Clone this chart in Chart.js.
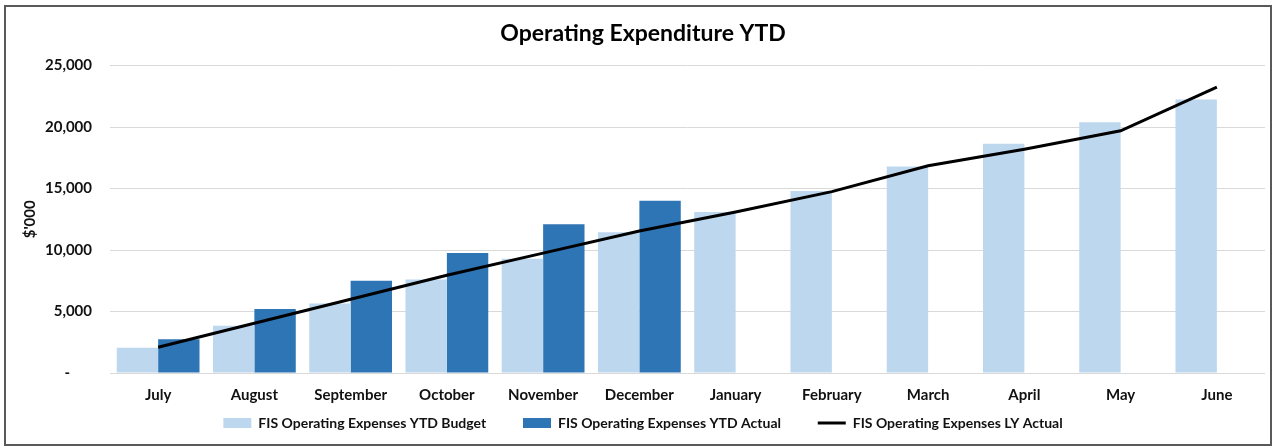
<!DOCTYPE html>
<html>
<head>
<meta charset="utf-8">
<script src="https://cdn.jsdelivr.net/npm/chart.js@4/dist/chart.umd.min.js"></script>
<style>
    html, body { margin: 0; padding: 0; background: #fff; }
    #frame {
        position: absolute; left: 4px; top: 5px;
        width: 1268px; height: 441px;
        border: 2px solid #595959; box-sizing: border-box;
    }
    #chart-wrap { position: absolute; left: 0; top: 0; right: 0; bottom: 0; }
</style>
</head>
<body>
<div id="frame"><div id="chart-wrap"><canvas id="chart-opex"></canvas></div></div>
<script>
const months = ['July', 'August', 'September', 'October', 'November', 'December',
    'January', 'February', 'March', 'April', 'May', 'June']
const ytdBudget = [2050, 3850, 5650, 7600, 9300, 11450, 13100, 14800, 16800, 18650, 20400, 22250]
const ytdActual = [2750, 5200, 7500, 9750, 12100, 14000, null, null, null, null, null, null]
const lyActual = [2100, 4050, 6000, 7950, 9750, 11550, 13100, 14750, 16850, 18200, 19700, 23250]

const FONT = "Lato, 'Open Sans', sans-serif"
const GAP = '       '

/* Excel accounting style: zero shows as a dash */
function fmtTick(v) {
    if (v === 0) return '-      '
    return v.toLocaleString('en-US')
}

var canva = document.getElementById('chart-opex')
var chart = new Chart(canva, {
    data: {
        labels: months,
        datasets: [{
            type: 'line',
            label: 'FIS Operating Expenses LY Actual',
            data: lyActual,
            borderColor: '#000000',
            backgroundColor: '#000000',
            borderWidth: 3,
            pointRadius: 0,
            pointStyle: 'line',
            tension: 0,
            order: 0
        }, {
            type: 'bar',
            label: 'FIS Operating Expenses YTD Budget',
            data: ytdBudget,
            backgroundColor: '#BDD7EE',
            borderWidth: 0,
            pointStyle: 'rect',
            order: 1
        }, {
            type: 'bar',
            label: 'FIS Operating Expenses YTD Actual',
            data: ytdActual,
            backgroundColor: '#2E75B6',
            borderWidth: 0,
            pointStyle: 'rect',
            order: 2
        }]
    },
    options: {
        responsive: true,
        maintainAspectRatio: false,
        animation: false,
        layout: { padding: { left: 15, right: 5, top: 4, bottom: 4 } },
        datasets: {
            bar: { categoryPercentage: 0.86, barPercentage: 1.0 }
        },
        scales: {
            x: {
                grid: { display: false },
                border: { display: false },
                afterFit: (scale) => { scale.height = 30 },
                ticks: {
                    color: '#111',
                    padding: 5,
                    maxRotation: 0,
                    font: { family: FONT, size: 15, weight: 'bold' }
                }
            },
            y: {
                min: 0,
                max: 25000,
                border: { display: false },
                grid: { color: '#d9d9d9', lineWidth: 1, drawTicks: false },
                afterFit: (scale) => { scale.width = 89 },
                ticks: {
                    stepSize: 5000,
                    color: '#111',
                    padding: 18,
                    callback: fmtTick,
                    font: { family: FONT, size: 15, weight: 'bold' }
                },
                title: {
                    display: true,
                    text: "$'000",
                    color: '#111',
                    padding: { top: 0, bottom: 7 },
                    font: { family: FONT, size: 15, weight: 'bold' }
                }
            }
        },
        plugins: {
            title: {
                display: true,
                text: 'Operating Expenditure YTD',
                color: '#000',
                padding: { top: 9, bottom: 18 },
                font: { family: FONT, size: 23, weight: 'bold' }
            },
            legend: {
                position: 'bottom',
                labels: {
                    usePointStyle: true,
                    pointStyleWidth: 28,
                    boxHeight: 10,
                    padding: 13,
                    color: '#111',
                    font: { family: FONT, size: 14, weight: 'bold' },
                    generateLabels: function (c) {
                        const items = Chart.defaults.plugins.legend.labels.generateLabels(c)
                        items.sort((a, b) => (a.datasetIndex || 3) - (b.datasetIndex || 3))
                        items.forEach((it, i) => { if (i < items.length - 1) it.text = it.text + GAP })
                        return items
                    }
                }
            },
            tooltip: { enabled: false }
        }
    }
})
</script>
</body>
</html>
